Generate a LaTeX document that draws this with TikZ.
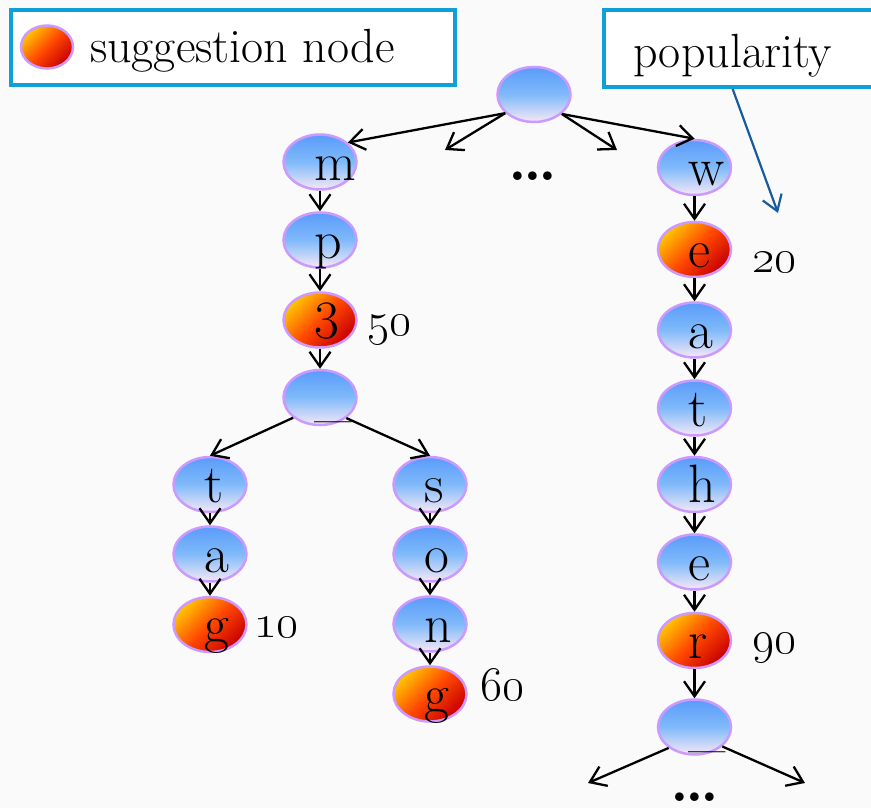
\RequirePackage{fix-cm}
\documentclass[tikz,border=0pt]{standalone}
\usetikzlibrary{shapes.geometric,arrows.meta,calc}

\definecolor{boxblue}{RGB}{16,160,216}
\definecolor{rim}{RGB}{204,153,255}
\definecolor{nodetop}{RGB}{90,155,250}
\definecolor{nodemid}{RGB}{128,186,250}
\definecolor{nodebot}{RGB}{246,232,246}
\definecolor{sugA}{RGB}{255,196,0}
\definecolor{sugB}{RGB}{255,72,0}
\definecolor{sugC}{RGB}{200,0,0}
\definecolor{popblue}{RGB}{25,90,160}
\definecolor{paper}{RGB}{250,250,250}

\tikzset{
  trie/.style={ellipse, draw=rim, line width=2.5pt, minimum width=73pt,
    minimum height=55pt, inner sep=0pt,
    top color=nodetop, bottom color=nodebot, middle color=nodemid},
  sugg/.style={ellipse, draw=rim, line width=2.5pt, minimum width=73pt,
    minimum height=55pt, inner sep=0pt,
    top color=sugA, bottom color=sugC, middle color=sugB, shading angle=45},
  letter/.style={anchor=base west, inner sep=0pt, font=\fontsize{54}{64}\selectfont},
  caption/.style={anchor=base west, inner sep=0pt, font=\fontsize{48}{58}\selectfont},
  num/.style={anchor=base west, inner sep=0pt, font=\fontsize{48}{58}\selectfont},
  dots/.style={anchor=base, inner sep=0pt, font=\fontsize{60}{70}\selectfont\bfseries},
  frame/.style={rectangle, draw=boxblue, line width=4pt, fill=white, inner sep=0pt},
  arr/.style={line width=2.3pt, -{Straight Barb[length=15pt,width=21pt]}},
  poparr/.style={draw=popblue, line width=2.2pt, -{Straight Barb[length=15pt,width=20pt]}},
}
\newcommand{\elided}{.\kern-4pt.\kern-4pt.}

\begin{document}
\begin{tikzpicture}[x=1pt,y=-1pt]
  \clip (0,0) rectangle (871,808);
  \fill[paper] (0,0) rectangle (871,808);

  % legend and caption boxes
  \node[frame, minimum width=444pt, minimum height=75pt] (legend) at (233,47.5) {};
  \node[sugg, minimum width=52pt, minimum height=43pt] (legnode) at (47,47) {};
  \node[caption] (legtext) at (90,63) {suggestion node};

  \node[frame, minimum width=296pt, minimum height=77pt] (pop) at (752,48.5) {};
  \node[caption] (poptext) at (633,67) {popularity};

  % root of the trie
  \node[trie] (root) at (534,94.5) {};

  % trie nodes: name / x / y / kind
  \foreach \id/\px/\py/\kind in {
      m/320/162/trie, p/320/240/trie, three/320/320/sugg, lu/320/397.5/trie,
      t/210/484.5/trie, ta/210/554/trie, tg/210/624.5/sugg,
      s/430/484.5/trie, so/430/554/trie, sn/430/624/trie, sg/430/694/sugg,
      w/694.5/167.5/trie, we/694.5/249.5/sugg, wa/694.5/330/trie,
      wt/694.5/408/trie, wh/694.5/484.5/trie, wee/694.5/562/trie,
      wr/694.5/640.5/sugg, wu/694.5/727/trie} {
    \node[\kind] (\id) at (\px,\py) {};
  }

  % free ends of the arrows that lead to elided subtrees
  \coordinate (rootL) at (445,150);
  \coordinate (rootR) at (617,150);
  \coordinate (wuL) at (588,783);
  \coordinate (wuR) at (805,783);
  \coordinate (poptip) at (778,213);

  % edges
  \draw[arr] (root.213) -- (m.35);
  \draw[arr] (root.213) -- (rootL);
  \draw[arr] (root.-35) -- (rootR);
  \draw[arr] (root.-35) -- (w.north);
  \draw[arr] (m) -- (p);
  \draw[arr] (p) -- (three);
  \draw[arr] (three) -- (lu);
  \draw[arr] (lu.217) -- (t.north);
  \draw[arr] (lu.-38) -- (s.north);
  \draw[arr] (t) -- (ta);
  \draw[arr] (ta) -- (tg);
  \draw[arr] (s) -- (so);
  \draw[arr] (so) -- (sn);
  \draw[arr] (sn) -- (sg);
  \draw[arr] (w) -- (we);
  \draw[arr] (we) -- (wa);
  \draw[arr] (wa) -- (wt);
  \draw[arr] (wt) -- (wh);
  \draw[arr] (wh) -- (wee);
  \draw[arr] (wee) -- (wr);
  \draw[arr] (wr) -- (wu);
  \draw[arr] (wu.219) -- (wuL);
  \draw[arr] (wu.-35) -- (wuR);

  \draw[poparr] (poptext.south |- pop.south) -- (poptip);

  % characters on the nodes
  \foreach \id/\ch in {m/m, p/p, three/3, lu/\_, t/t, ta/a, tg/g, s/s, so/o, sn/n, sg/g,
      w/w, we/e, wa/a, wt/t, wh/h, wee/e, wr/r, wu/\_} {
    \node[letter] (\id-ch) at ($(\id)+(-6,18)$) {\ch};
  }

  % popularity values
  \node[num] (pop50) at (367,335) {\oldstylenums{50}};
  \node[num] (pop20) at (752,272) {\oldstylenums{20}};
  \node[num] (pop10) at (254,637) {\oldstylenums{10}};
  \node[num] (pop60) at (480,700) {\oldstylenums{60}};
  \node[num] (pop90) at (752,653) {\oldstylenums{90}};

  % elided siblings
  \node[dots] (moreTop) at (533,180) {\elided};
  \node[dots] (moreBottom) at (695,801) {\elided};
\end{tikzpicture}
\end{document}
